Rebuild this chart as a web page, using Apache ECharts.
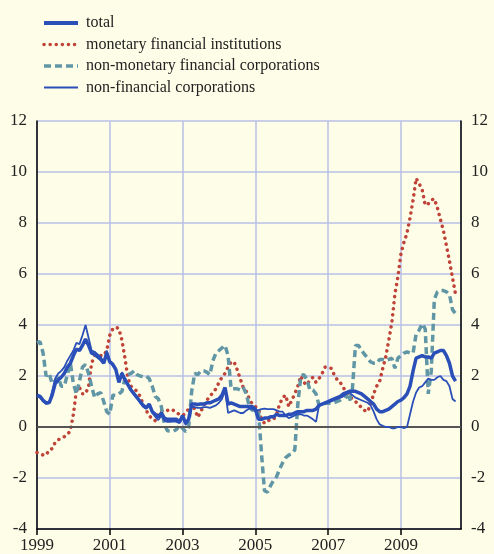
<!DOCTYPE html>
<html lang="en" style="height: 100%">
<head>
    <meta charset="UTF-8">
    <title>Growth rates</title>
    <script src="https://cdn.jsdelivr.net/npm/echarts@6/dist/echarts.min.js"></script>
</head>
<body style="height: 100%; margin: 0; background: #fefee8">
<div id="container" style="width: 494px; height: 554px"></div>

<script type="text/javascript">
    // monthly observations, Jan 1999 .. Jul 2010
    var startYear = 1999;
    var total = [
        1.25, 1.2, 1.05, 0.95, 0.95, 1.25, 1.7, 1.85, 1.95, 2.1, 2.35, 2.5,
        2.8, 3.05, 3.0, 3.2, 3.45, 3.2, 2.9, 2.85, 2.75, 2.65, 2.5, 2.9,
        2.55, 2.45, 2.25, 1.75, 2.1, 1.85, 1.65, 1.45, 1.3, 1.15, 1.0, 0.85,
        0.75, 0.9, 0.6, 0.5, 0.4, 0.55, 0.35, 0.3, 0.3, 0.3, 0.3, 0.2,
        0.45, 0.15, 0.3, 0.9, 0.9, 0.88, 0.9, 0.9, 0.95, 0.95, 1.0, 1.05,
        1.1, 1.25, 1.55, 0.9, 0.95, 0.9, 0.85, 0.8, 0.8, 0.8, 0.8, 0.8,
        0.7, 0.3, 0.3, 0.35, 0.35, 0.4, 0.4, 0.5, 0.45, 0.45, 0.45, 0.5,
        0.5, 0.55, 0.6, 0.6, 0.6, 0.65, 0.65, 0.65, 0.7, 0.85, 0.9, 0.95,
        1.0, 1.05, 1.1, 1.15, 1.2, 1.3, 1.35, 1.4, 1.4, 1.4, 1.35, 1.3,
        1.2, 1.1, 1.0, 0.9, 0.7, 0.6, 0.6, 0.65, 0.7, 0.8, 0.9, 1.0,
        1.05, 1.15, 1.3, 1.6, 2.2, 2.7, 2.75, 2.8, 2.75, 2.75, 2.7, 2.9,
        2.95, 3.0, 3.0, 2.8, 2.5, 2.0, 1.8
    ];
    var mfi = [
        -1.0, -1.05, -1.1, -1.1, -0.9, -0.85, -0.6, -0.5, -0.45, -0.38, -0.3, -0.15,
        0.5, 1.45, 1.55, 1.3, 1.3, 1.6, 2.5, 2.8, 2.8, 2.8, 2.8, 3.0,
        3.6, 3.85, 3.92, 3.85, 3.4, 2.7, 1.9, 1.6, 1.5, 1.4, 1.2, 0.9,
        0.65, 0.45, 0.3, 0.25, 0.55, 0.6, 0.65, 0.65, 0.7, 0.65, 0.55, 0.5,
        0.45, 0.55, 0.7, 0.9, 0.7, 0.38, 0.6, 0.85, 1.05, 1.2, 1.35, 1.5,
        1.75, 1.95, 2.1, 2.35, 2.55, 2.55, 2.25, 1.9, 1.55, 1.4, 1.1, 0.9,
        0.8, 0.7, 0.3, 0.15, 0.25, 0.27, 0.3, 0.5, 0.9, 1.15, 1.25, 0.8,
        1.05, 1.3, 1.6, 2.0, 1.75, 1.65, 1.85, 1.95, 1.75, 1.9, 2.1, 2.35,
        2.35, 2.3, 2.05, 1.85, 1.75, 1.55, 1.35, 1.2, 1.1, 1.0, 0.9, 0.75,
        0.65, 0.6, 0.9, 1.3, 1.6, 1.8, 2.3, 2.75, 3.4, 4.1, 5.2, 5.9,
        6.8, 7.25, 7.6, 8.2, 8.9, 9.75, 9.55, 9.3, 8.7, 8.75, 8.9, 8.95,
        8.6, 8.15, 7.7, 7.1, 6.5, 5.85, 5.2
    ];
    var nmfc = [
        3.3, 3.35, 2.9, 2.0, 2.1, 1.7, 1.8, 1.95, 1.6, 1.6, 2.05, 2.5,
        1.7, 1.3, 1.8, 2.35, 2.45, 2.1, 1.6, 1.15, 1.3, 1.35, 1.0, 0.6,
        0.5, 1.25, 1.25, 1.3, 1.4, 1.9, 2.05, 2.1, 2.2, 2.05, 2.0, 1.97,
        2.0, 1.9, 1.6, 1.2, 1.1, 0.8, 0.1, -0.15, -0.16, -0.16, -0.1, 0.08,
        -0.05, -0.18, 0.0, 1.4, 2.1, 2.05, 2.2, 2.2, 2.15, 2.05, 2.6, 2.9,
        3.0, 3.1, 3.2, 2.8, 1.5, 1.5, 1.5, 1.45, 1.55, 1.3, 0.8, 0.65,
        0.7, 0.65, -1.0, -2.5, -2.55, -2.3, -2.1, -1.95, -1.65, -1.4, -1.2, -1.1,
        -1.05, -0.9, 0.9, 2.0, 2.05, 1.85, 1.45, 1.45, 1.3, 0.85, 0.85, 0.93,
        0.93, 0.93, 0.95, 1.0, 1.05, 1.15, 1.25, 1.0, 1.5, 3.2, 3.2, 3.0,
        2.85, 2.7, 2.55, 2.5, 2.5, 2.65, 2.65, 2.6, 2.65, 2.7, 2.3, 2.7,
        2.8, 2.9, 2.95, 2.9, 2.9, 3.65, 3.8, 4.05, 3.85, 1.3, 2.2, 5.0,
        5.3, 5.35, 5.35, 5.3, 5.2, 4.6, 4.45
    ];
    var nfc = [
        1.2, 1.15, 1.0, 0.9, 0.95, 1.4, 1.9, 2.1, 2.2, 2.35, 2.6, 2.8,
        3.0, 3.3, 3.25, 3.6, 4.0, 3.5, 3.0, 2.95, 2.85, 2.75, 2.55, 3.0,
        2.6, 2.5, 2.3, 1.8, 2.15, 1.9, 1.7, 1.45, 1.3, 1.15, 0.95, 0.8,
        0.72, 0.9, 0.55, 0.4, 0.27, 0.45, 0.25, 0.2, 0.2, 0.22, 0.2, 0.15,
        0.45, 0.08, 0.27, 0.8, 0.78, 0.75, 0.75, 0.78, 0.78, 0.75, 0.8, 0.85,
        0.95, 1.1, 1.45, 0.55, 0.6, 0.65, 0.6, 0.55, 0.55, 0.65, 0.73, 0.7,
        0.66, 0.66, 0.7, 0.72, 0.7, 0.7, 0.7, 0.65, 0.6, 0.6, 0.45, 0.35,
        0.4, 0.45, 0.5, 0.5, 0.45, 0.45, 0.38, 0.3, 0.2, 0.85, 0.9, 0.95,
        0.95, 1.0, 1.05, 1.1, 1.15, 1.2, 1.3, 1.35, 1.25, 1.15, 1.1, 1.05,
        1.0, 0.95, 0.85, 0.6, 0.3, 0.1, 0.05, 0.0, 0.0, -0.05, -0.05, 0.0,
        0.0, -0.05, 0.0, 0.5, 1.0, 1.35, 1.55, 1.6, 1.75, 1.9, 1.85, 1.85,
        1.95, 2.0, 1.85, 1.8, 1.6, 1.1, 1.0
    ];
    var names = ['total', 'monetary financial institutions',
        'non-monetary financial corporations', 'non-financial corporations'];

    function pairs(values) {
        return values.map(function (v, i) { return [startYear + i / 12, v]; });
    }

    var font = 'Liberation Serif';
    var dom = document.getElementById('container');
    var myChart = echarts.init(dom, null, {renderer: 'canvas'});

    var yAxisBase = {
        type: 'value', min: -4, max: 12, interval: 2,
        axisLine: {show: true, lineStyle: {color: '#000', width: 1.5}},
        axisTick: {show: false},
        splitLine: {show: true, lineStyle: {color: '#b9bfe8', width: 1.5}},
        axisLabel: {color: '#222', fontFamily: font, fontSize: 17, margin: 10}
    };

    var option = {
        backgroundColor: '#fefee8',
        animation: false,
        legend: {
            orient: 'vertical', left: 37, top: 10,
            itemWidth: 34, itemHeight: 14, itemGap: 5.5,
            itemStyle: {opacity: 0},
            textStyle: {fontFamily: font, fontSize: 16, color: '#222', padding: [0, 0, 0, 3]},
            data: [
                {name: names[0], lineStyle: {width: 4}},
                {name: names[1], lineStyle: {width: 3.5}},
                {name: names[2], lineStyle: {width: 3.5}},
                {name: names[3], lineStyle: {width: 2}}
            ]
        },
        grid: {left: 37, right: 33, top: 121, bottom: 24},
        xAxis: {
            type: 'value', min: 1999, max: 2010.65, interval: 2,
            axisLine: {onZero: false, lineStyle: {color: '#000', width: 1.5}},
            axisTick: {show: true, length: 6, inside: false, lineStyle: {color: '#000', width: 1.5}},
            splitLine: {show: true, lineStyle: {color: '#b9bfe8', width: 1.5}},
            axisLabel: {
                color: '#222', fontFamily: font, fontSize: 17, margin: 8, showMaxLabel: false,
                formatter: function (v) { return v % 1 === 0 ? String(v) : ''; }
            }
        },
        yAxis: [
            Object.assign({}, yAxisBase, {position: 'left'}),
            Object.assign({}, yAxisBase, {position: 'right', splitLine: {show: false}})
        ],
        series: [
            {
                name: names[0], type: 'line', data: pairs(total), symbol: 'none', z: 4,
                lineStyle: {color: '#2b4fb8', width: 3.5},
                itemStyle: {color: '#2b4fb8'},
                markLine: {
                    silent: true, symbol: 'none', label: {show: false},
                    lineStyle: {color: '#555', width: 2, type: 'solid'},
                    data: [{yAxis: 0}]
                }
            },
            {
                name: names[1], type: 'line', data: pairs(mfi), symbol: 'none', z: 2,
                lineStyle: {color: '#c0433a', width: 3.5, type: [0.1, 6], cap: 'round'},
                itemStyle: {color: '#c0433a'}
            },
            {
                name: names[2], type: 'line', data: pairs(nmfc), symbol: 'none', z: 3,
                lineStyle: {color: '#6096a6', width: 3.5, type: [7, 4]},
                itemStyle: {color: '#6096a6'}
            },
            {
                name: names[3], type: 'line', data: pairs(nfc), symbol: 'none', z: 5,
                lineStyle: {color: '#2b4fb8', width: 1.8},
                itemStyle: {color: '#2b4fb8'}
            }
        ]
    };
    myChart.setOption(option, true);
</script>
</body>
</html>
